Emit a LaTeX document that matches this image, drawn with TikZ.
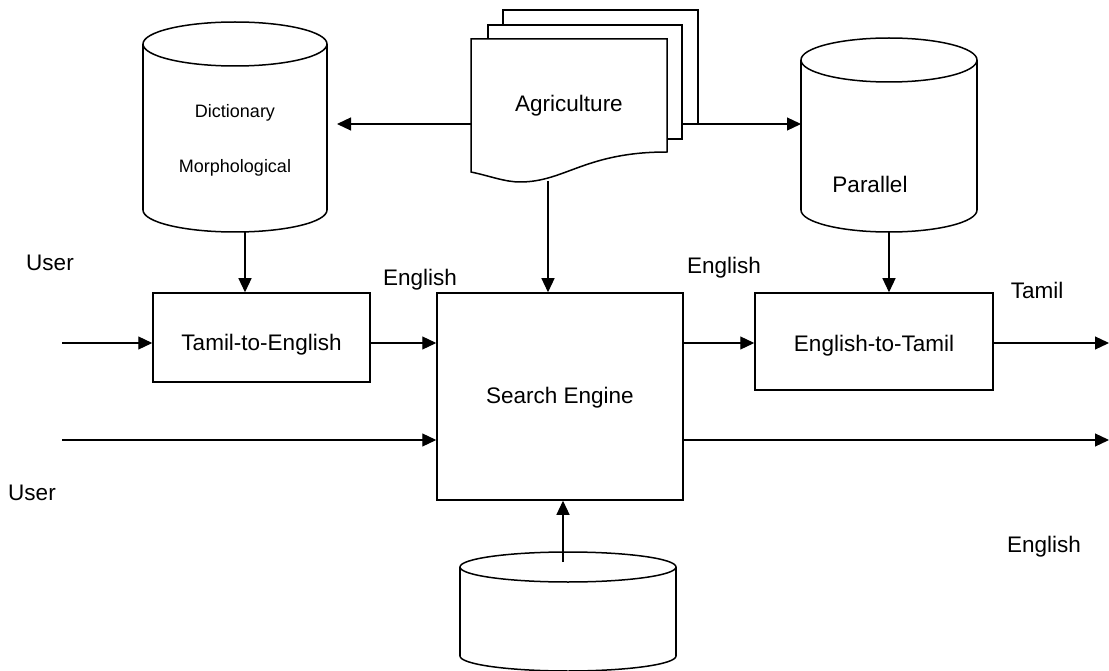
\documentclass[tikz,border=0pt]{standalone}
\usepackage{fontspec}
\setmainfont{Liberation Sans}
\usetikzlibrary{arrows.meta}
\newcommand\dbcyl[5]{% cx rx ytop ybot ry
 \draw[shp] (#1,#4) ellipse[x radius=#2,y radius=#5];
 \fill[white] ({#1-#2},#3) rectangle ({#1+#2},#4);
 \draw[line width=1.5pt] ({#1-#2},#3) -- ({#1-#2},#4) ({#1+#2},#3) -- ({#1+#2},#4);
 \draw[shp] (#1,#3) ellipse[x radius=#2,y radius=#5];}
\begin{document}
\begin{tikzpicture}[x=1pt,y=-1pt,
  box/.style={draw,line width=1.5pt,inner sep=0,text depth=5pt,font=\fontsize{22.5}{26}\selectfont},
  lbl/.style={font=\fontsize{22.5}{26}\selectfont,inner sep=0},
  small/.style={font=\fontsize{18}{22}\selectfont,inner sep=0},
  arr/.style={line width=1.2pt,-{Triangle[length=14pt,width=13pt]}},
  shp/.style={line width=1.5pt,fill=white}]
\useasboundingbox[fill=white] (0,0) rectangle (1109,671);
% cylinders
\dbcyl{235}{92}{44}{210}{22}
\node[small] (dict) at (235,113) {Dictionary};
\node[small] (morph) at (235,168) {Morphological};
\dbcyl{889}{88}{60}{210}{22}
\node[lbl] (par) at (870,184) {Parallel};
\dbcyl{568}{108}{567}{656}{15}
% agriculture document stack
\draw[shp] (503,10) rectangle (698,124);
\draw[shp] (488,25) rectangle (682,139);
\draw[shp] (471,39) -- (667,39) -- (667,152)
  .. controls (585,152) and (565,182) .. (520,182)
  .. controls (505,182) and (490,176) .. (471,172) -- cycle;
\node[lbl,minimum width=196pt,minimum height=120pt] (agri) at (569,106) {Agriculture};
% boxes
\node[box,text height=31pt,minimum width=217pt,minimum height=89pt] (t2e) at (261.5,337.5) {Tamil-to-English};
\node[box,text height=18pt,minimum width=246pt,minimum height=207pt] (search) at (560,396.5) {Search Engine};
\node[box,text height=24pt,minimum width=238pt,minimum height=97pt] (e2t) at (874,341.5) {English-to-Tamil};
% coordinates
\coordinate (in1) at (62,343);
\coordinate (out1) at (1109,343);
\coordinate (in2) at (62,440);
\coordinate (out2) at (1109,440);
\coordinate (dictR) at (337,124);
\coordinate (agriR) at (698,124);
\coordinate (parL) at (801,124);
\coordinate (dictB) at (245,232);
\coordinate (parB) at (889,232);
\coordinate (agriB) at (548,181);
\coordinate (dbT) at (563,562);
% connectors
\draw[arr] (in1) -- (t2e.west |- in1);
\draw[arr] (t2e.east |- in1) -- (search.west |- in1);
\draw[arr] (search.east |- in1) -- (e2t.west |- in1);
\draw[arr] (e2t.east |- in1) -- (out1);
\draw[arr] (in2) -- (search.west |- in2);
\draw[arr] (search.east |- in2) -- (out2);
\draw[arr] (agri.west |- dictR) -- (dictR);
\draw[arr] (agriR) -- (parL);
\draw[arr] (dictB) -- (dictB |- t2e.north);
\draw[arr] (parB) -- (parB |- e2t.north);
\draw[arr] (agriB) -- (agriB |- search.north);
\draw[arr] (dbT) -- (dbT |- search.south);
% labels
\node[lbl] (u1) at (50,263) {User};
\node[lbl] (u2) at (32,493) {User};
\node[lbl] (en1) at (420,280) {English};
\node[lbl] (en2) at (724,268) {English};
\node[lbl] (ta) at (1037,290) {Tamil};
\node[lbl] (en3) at (1044,547) {English};
\end{tikzpicture}
\end{document}
